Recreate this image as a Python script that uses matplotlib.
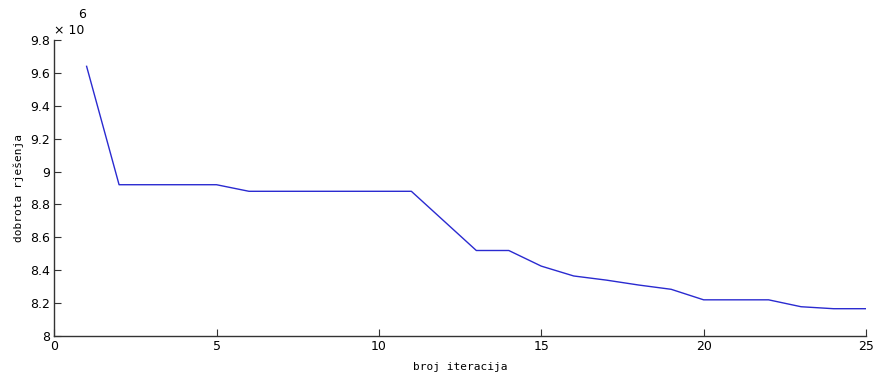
import numpy as np
import matplotlib
matplotlib.use("Agg")
import matplotlib.pyplot as plt

# iteration number vs solution fitness (x 10^6)
iterations = list(range(1, 26))
fitness = [9.64, 8.92, 8.92, 8.92, 8.92, 8.88, 8.88, 8.88, 8.88, 8.88,
           8.88, 8.70, 8.52, 8.52, 8.425, 8.365, 8.34, 8.31, 8.284, 8.22,
           8.22, 8.22, 8.178, 8.166, 8.166]

x_ticks = [0, 5, 10, 15, 20, 25]
y_ticks = [8, 8.2, 8.4, 8.6, 8.8, 9, 9.2, 9.4, 9.6, 9.8]
y_tick_labels = ["8", "8.2", "8.4", "8.6", "8.8", "9", "9.2", "9.4", "9.6", "9.8"]

fig = plt.figure(figsize=(8.73, 3.74), dpi=100)
ax = fig.add_axes([0.062, 0.1016, 0.930, 0.7914])

ax.plot(iterations, fitness, color="#2a2ad0", lw=1.0)

ax.set_xlim(0, 25)
ax.set_ylim(8, 9.8)
ax.set_xticks(x_ticks)
ax.set_yticks(y_ticks)
ax.set_yticklabels(y_tick_labels)
ax.tick_params(direction="in", length=5, labelsize=9, color="#333333", pad=3)
for s in ["top", "right"]:
    ax.spines[s].set_visible(False)
for s in ["left", "bottom"]:
    ax.spines[s].set_color("#333333")
    ax.spines[s].set_linewidth(1.0)

ax.set_xlabel("broj iteracija", fontsize=8, family="DejaVu Sans Mono", labelpad=6)
ax.set_ylabel("dobrota rješenja", fontsize=8, family="DejaVu Sans Mono", labelpad=4)

ax.text(0.0, 1.01, "× 10", transform=ax.transAxes, fontsize=9, ha="left", va="bottom")
ax.text(0.029, 1.065, "6", transform=ax.transAxes, fontsize=9, ha="left", va="bottom")

fig.savefig("out.png", dpi=100)
